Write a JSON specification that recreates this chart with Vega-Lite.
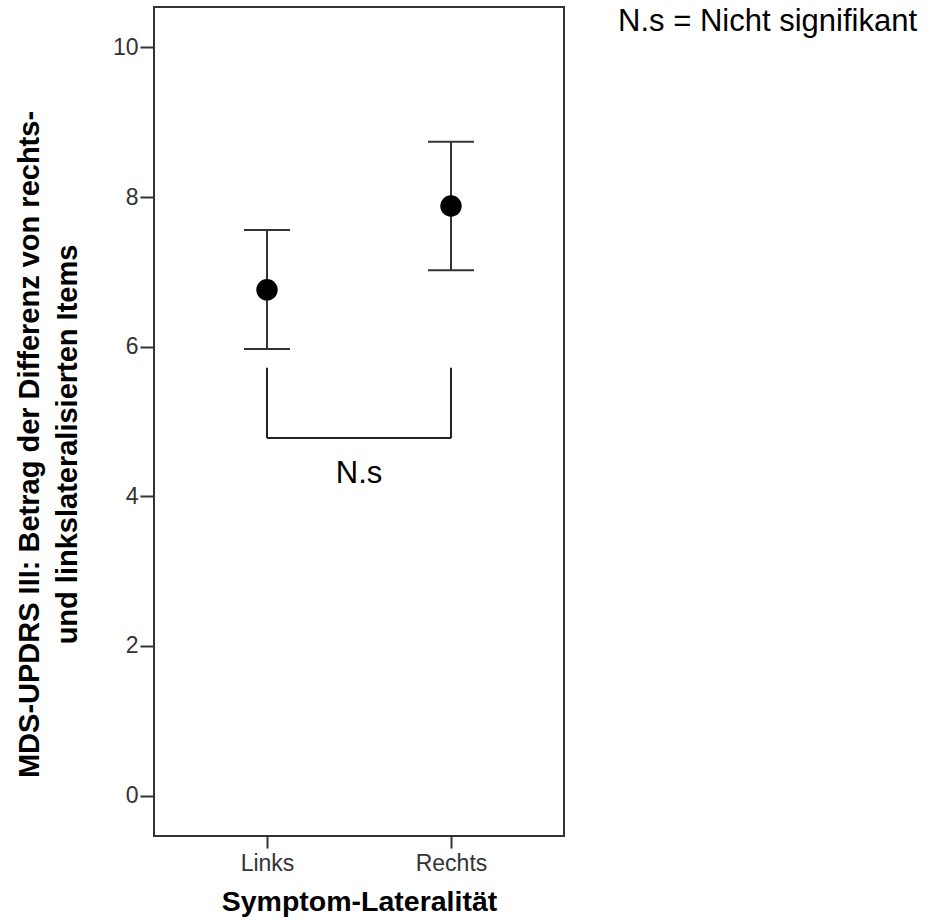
{
  "$schema": "https://vega.github.io/schema/vega-lite/v6.json",
  "width": 410,
  "height": 829,
  "autosize": {"type": "none"},
  "padding": {"left": 154, "top": 7, "right": 373, "bottom": 88},
  "background": "white",
  "config": {
    "font": "Liberation Sans",
    "view": {"stroke": "#333333", "strokeWidth": 2},
    "axis": {"grid": false, "domain": false, "tickColor": "#333333", "tickWidth": 2, "labelColor": "#333333", "labelFont": "Liberation Sans", "titleFont": "Liberation Sans", "titleColor": "black", "titleFontWeight": "bold"}
  },
  "title": {
    "text": "N.s = Nicht signifikant",
    "orient": "top",
    "anchor": "end",
    "frame": "group",
    "align": "right",
    "baseline": "alphabetic",
    "offset": 0,
    "dx": 353,
    "dy": 55,
    "fontSize": 31,
    "fontWeight": "normal",
    "font": "Liberation Sans",
    "color": "black"
  },
  "datasets": {
    "stats": [
      {"seite": "Links", "mittelwert": 6.76, "unten": 5.97, "oben": 7.56},
      {"seite": "Rechts", "mittelwert": 7.88, "unten": 7.02, "oben": 8.74}
    ],
    "klammer_seiten": [
      {"seite": "Links", "von": 4.78, "bis": 5.72},
      {"seite": "Rechts", "von": 4.78, "bis": 5.72}
    ],
    "klammer_quer": [
      {"von": "Links", "bis": "Rechts", "y": 4.78}
    ],
    "beschriftung": [
      {"seite": "mitte", "y": 4.18, "text": "N.s"}
    ]
  },
  "encoding": {
    "x": {
      "field": "seite",
      "type": "nominal",
      "scale": {"type": "point", "domain": ["Links", "mitte", "Rechts"], "range": [113, 297], "padding": 0},
      "axis": {"values": ["Links", "Rechts"], "title": "Symptom-Lateralität", "labelAngle": 0, "tickSize": 12, "labelPadding": 4, "labelFontSize": 23, "titleFontSize": 28.5, "titlePadding": 12}
    }
  },
  "layer": [
    {
      "data": {"name": "stats"},
      "mark": {"type": "rule", "color": "#333333", "strokeWidth": 2},
      "encoding": {
        "y": {
          "field": "unten",
          "type": "quantitative",
          "scale": {"domain": [-0.54, 10.54], "nice": false, "zero": false},
          "axis": {"values": [0, 2, 4, 6, 8, 10], "format": "d", "title": ["MDS-UPDRS III: Betrag der Differenz von rechts-", "und linkslateralisierten Items"], "tickSize": 14, "labelPadding": 2, "labelFontSize": 23, "titleFontSize": 29, "titleLineHeight": 38, "titlePadding": 30, "titleY": 437}
        },
        "y2": {"field": "oben"}
      }
    },
    {
      "data": {"name": "stats"},
      "mark": {"type": "tick", "color": "#333333", "thickness": 2, "size": 46, "opacity": 1},
      "encoding": {"y": {"field": "unten", "type": "quantitative"}}
    },
    {
      "data": {"name": "stats"},
      "mark": {"type": "tick", "color": "#333333", "thickness": 2, "size": 46, "opacity": 1},
      "encoding": {"y": {"field": "oben", "type": "quantitative"}}
    },
    {
      "data": {"name": "stats"},
      "mark": {"type": "circle", "color": "black", "size": 460, "opacity": 1},
      "encoding": {"y": {"field": "mittelwert", "type": "quantitative"}}
    },
    {
      "data": {"name": "klammer_seiten"},
      "mark": {"type": "rule", "color": "#222222", "strokeWidth": 2},
      "encoding": {"y": {"field": "von", "type": "quantitative"}, "y2": {"field": "bis"}}
    },
    {
      "data": {"name": "klammer_quer"},
      "mark": {"type": "rule", "color": "#222222", "strokeWidth": 2},
      "encoding": {
        "x": {"field": "von", "type": "nominal"},
        "x2": {"field": "bis"},
        "y": {"field": "y", "type": "quantitative"}
      }
    },
    {
      "data": {"name": "beschriftung"},
      "mark": {"type": "text", "fontSize": 31, "color": "black", "baseline": "alphabetic", "align": "center", "font": "Liberation Sans"},
      "encoding": {"y": {"field": "y", "type": "quantitative"}, "text": {"field": "text"}}
    }
  ]
}
